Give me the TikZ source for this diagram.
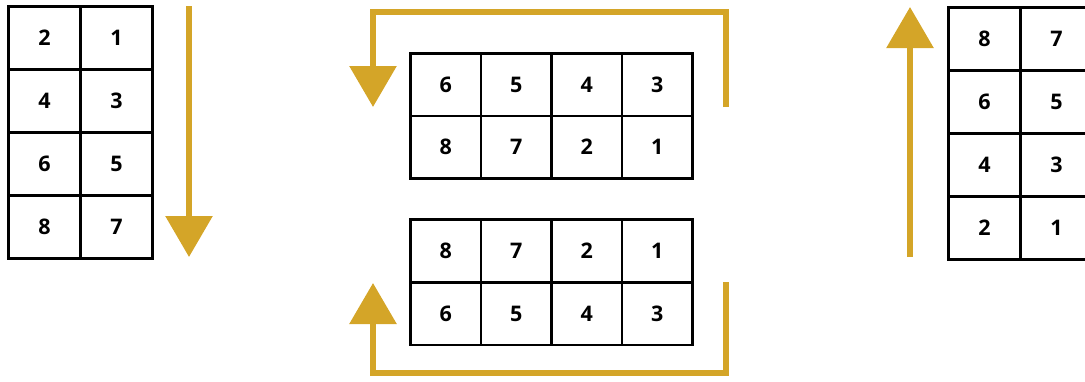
\documentclass[tikz,border=0pt]{standalone}
\usepackage{fontspec}
\setmainfont{Open Sans}
\usetikzlibrary{arrows.meta}
\definecolor{gold}{RGB}{212,165,40}
\tikzset{
  cell/.style={draw=black, line width=2.8pt, inner sep=0pt, anchor=north west,
    font=\bfseries\fontsize{21.5}{21.5}\selectfont},
  wide/.style={cell, minimum width=72pt, minimum height=63pt},
  narrow/.style={cell, minimum width=70.5pt, minimum height=62.5pt},
  flow/.style={draw=gold, line width=6pt, line join=miter,
    -{Triangle[width=46pt,length=41pt]}}
}
\begin{document}
\begin{tikzpicture}[x=1pt,y=-1pt]
\useasboundingbox (0,0) rectangle (1085,381);
\clip (0,0) rectangle (1085,381);
% left grid
\foreach \r/\a/\b in {0/2/1,1/4/3,2/6/5,3/8/7}{
  \node[wide] (L\r a) at (7,5+63*\r) {\a};
  \node[wide] (L\r b) at (79,5+63*\r) {\b};
}
% right grid
\foreach \r/\a/\b in {0/8/7,1/6/5,2/4/3,3/2/1}{
  \node[wide] (R\r a) at (947,6+63*\r) {\a};
  \node[wide] (R\r b) at (1019,6+63*\r) {\b};
}
% middle top grid
\foreach \c/\a/\b in {0/6/8,1/5/7,2/4/2,3/3/1}{
  \node[narrow] (T0\c) at (409+70.5*\c,52) {\a};
  \node[narrow] (T1\c) at (409+70.5*\c,114.5) {\b};
}
% middle bottom grid
\foreach \c/\a/\b in {0/8/6,1/7/5,2/2/4,3/1/3}{
  \node[narrow] (B0\c) at (409+70.5*\c,218) {\a};
  \node[narrow] (B1\c) at (409+70.5*\c,281) {\b};
}
% arrows
\coordinate (l1) at (189,6);
\coordinate (l2) at (189,257);
\draw[flow] (l1) -- (l2);
\coordinate (r1) at (910,257);
\coordinate (r2) at (910,7);
\draw[flow] (r1) -- (r2);
\coordinate (t1) at (726,107);
\coordinate (t2) at (726,12);
\coordinate (t3) at (373,12);
\coordinate (t4) at (373,107);
\draw[flow] (t1) -- (t2) -- (t3) -- (t4);
\coordinate (b1) at (726,282);
\coordinate (b2) at (726,373);
\coordinate (b3) at (373,373);
\coordinate (b4) at (373,283);
\draw[flow] (b1) -- (b2) -- (b3) -- (b4);
\end{tikzpicture}
\end{document}
